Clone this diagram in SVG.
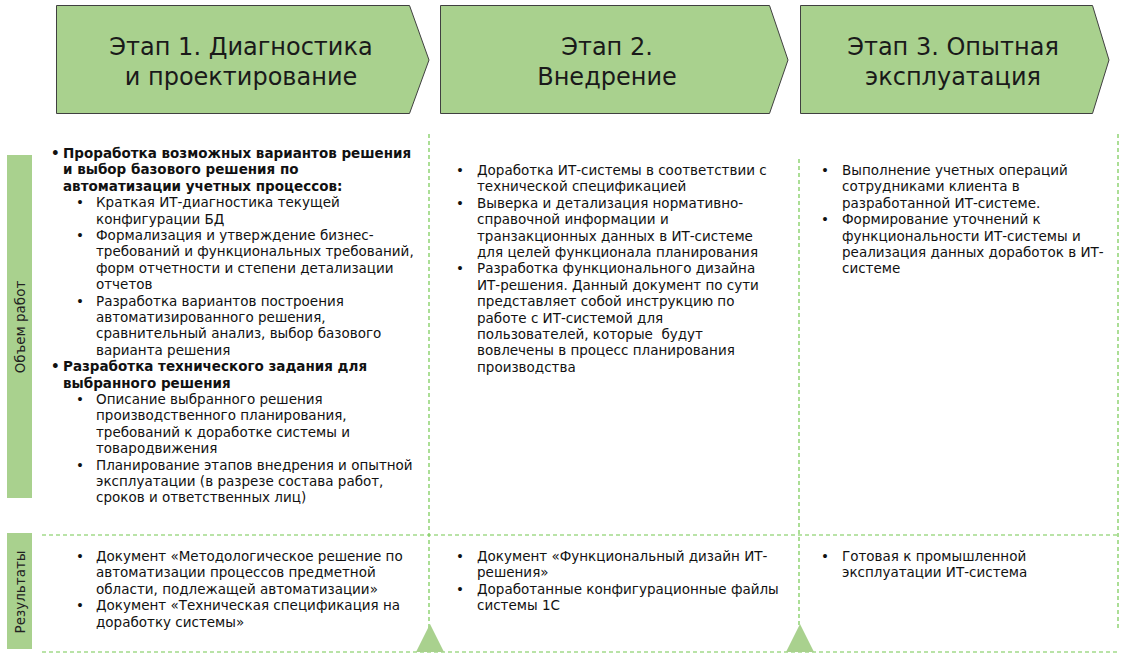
<svg xmlns="http://www.w3.org/2000/svg" width="1125" height="656" viewBox="0 0 1125 656">
<style>
.hdr{fill:#a9d18e;stroke:#404040;stroke-width:1}
.bar{fill:#a9d18e}
.ht{font-family:"DejaVu Sans",Verdana,sans-serif;font-size:24px;fill:#1a1a1a;text-anchor:middle}
.t{font-family:"DejaVu Sans",Verdana,sans-serif;font-size:13.5px;fill:#111}
.b{font-weight:bold}
.lbl{font-family:"DejaVu Sans",Verdana,sans-serif;font-size:13.5px;fill:#222;text-anchor:middle}
.dash{stroke:#74c850;stroke-width:1.2;stroke-dasharray:4 3;fill:none}
.tri{fill:#a9d18e}
</style>
<rect width="1125" height="656" fill="#ffffff"/>

<g id="stage1">
<polygon class="hdr" points="56.5,5.5 409.5,5.5 429,60 409.5,113.5 56.5,113.5"/>
<text class="ht" x="241" y="55">Этап 1. Диагностика</text>
<text class="ht" x="241" y="85">и проектирование</text>
</g>
<g id="stage2">
<polygon class="hdr" points="440.5,5.5 769.5,5.5 788,60 769.5,113.5 440.5,113.5"/>
<text class="ht" x="607" y="55">Этап 2.</text>
<text class="ht" x="607" y="85">Внедрение</text>
</g>
<g id="stage3">
<polygon class="hdr" points="800.5,5.5 1092.5,5.5 1109,60 1092.5,113.5 800.5,113.5"/>
<text class="ht" x="953" y="55">Этап 3. Опытная</text>
<text class="ht" x="953" y="85">эксплуатация</text>
</g>

<g id="label-scope">
<rect class="bar" x="7" y="155" width="25" height="343"/>
<text class="lbl" transform="translate(24.5,327) rotate(-90)">Объем работ</text>
</g>
<g id="label-results">
<rect class="bar" x="7" y="533" width="25" height="116"/>
<text class="lbl" transform="translate(24.5,592) rotate(-90)">Результаты</text>
</g>

<g id="connectors">
<line class="dash" x1="429" y1="134" x2="429" y2="652"/>
<line class="dash" x1="799" y1="159" x2="799" y2="652"/>
<line class="dash" x1="1118" y1="134" x2="1118" y2="628"/>
<line class="dash" x1="42" y1="535" x2="1118" y2="535"/>
<line class="dash" x1="42" y1="652" x2="1118" y2="652"/>
<polygon class="tri" points="430,624 444,652 416,652"/>
<polygon class="tri" points="800,624 814,652 786,652"/>
</g>

<g id="scope-stage1" class="t">
<text class="t b" x="51" y="158">•</text>
<text class="t b" x="63" y="158">Проработка возможных вариантов решения</text>
<text class="t b" x="63" y="174.4">и выбор базового решения по</text>
<text class="t b" x="63" y="190.8">автоматизации учетных процессов:</text>
<text class="t" x="76" y="207.2">•</text>
<text class="t" x="96" y="207.2">Краткая ИТ-диагностика текущей</text>
<text class="t" x="96" y="223.6">конфигурации БД</text>
<text class="t" x="76" y="240">•</text>
<text class="t" x="96" y="240">Формализация и утверждение бизнес-</text>
<text class="t" x="96" y="256.4">требований и функциональных требований,</text>
<text class="t" x="96" y="272.8">форм отчетности и степени детализации</text>
<text class="t" x="96" y="289.2">отчетов</text>
<text class="t" x="76" y="305.6">•</text>
<text class="t" x="96" y="305.6">Разработка вариантов построения</text>
<text class="t" x="96" y="322">автоматизированного решения,</text>
<text class="t" x="96" y="338.4">сравнительный анализ, выбор базового</text>
<text class="t" x="96" y="354.8">варианта решения</text>
<text class="t b" x="51" y="371.2">•</text>
<text class="t b" x="63" y="371.2">Разработка технического задания для</text>
<text class="t b" x="63" y="387.6">выбранного решения</text>
<text class="t" x="76" y="404">•</text>
<text class="t" x="96" y="404">Описание выбранного решения</text>
<text class="t" x="96" y="420.4">производственного планирования,</text>
<text class="t" x="96" y="436.8">требований к доработке системы и</text>
<text class="t" x="96" y="453.2">товародвижения</text>
<text class="t" x="76" y="469.6">•</text>
<text class="t" x="96" y="469.6">Планирование этапов внедрения и опытной</text>
<text class="t" x="96" y="486">эксплуатации (в разрезе состава работ,</text>
<text class="t" x="96" y="502.4">сроков и ответственных лиц)</text>
</g>

<g id="scope-stage2">
<text class="t" x="456" y="175">•</text>
<text class="t" x="477" y="175">Доработка ИТ-системы в соответствии с</text>
<text class="t" x="477" y="191.4">технической спецификацией</text>
<text class="t" x="456" y="207.8">•</text>
<text class="t" x="477" y="207.8">Выверка и детализация нормативно-</text>
<text class="t" x="477" y="224.2">справочной информации и</text>
<text class="t" x="477" y="240.6">транзакционных данных в ИТ-системе</text>
<text class="t" x="477" y="257">для целей функционала планирования</text>
<text class="t" x="456" y="273.4">•</text>
<text class="t" x="477" y="273.4">Разработка функционального дизайна</text>
<text class="t" x="477" y="289.8">ИТ-решения. Данный документ по сути</text>
<text class="t" x="477" y="306.2">представляет собой инструкцию по</text>
<text class="t" x="477" y="322.6">работе с ИТ-системой для</text>
<text class="t" x="477" y="339" xml:space="preserve">пользователей, которые  будут</text>
<text class="t" x="477" y="355.4">вовлечены в процесс планирования</text>
<text class="t" x="477" y="371.8">производства</text>
</g>

<g id="scope-stage3">
<text class="t" x="821" y="175">•</text>
<text class="t" x="842" y="175">Выполнение учетных операций</text>
<text class="t" x="842" y="191.4">сотрудниками клиента в</text>
<text class="t" x="842" y="207.8">разработанной ИТ-системе.</text>
<text class="t" x="821" y="224.2">•</text>
<text class="t" x="842" y="224.2">Формирование уточнений к</text>
<text class="t" x="842" y="240.6">функциональности ИТ-системы и</text>
<text class="t" x="842" y="257">реализация данных доработок в ИТ-</text>
<text class="t" x="842" y="273.4">системе</text>
</g>

<g id="results-stage1">
<text class="t" x="76" y="561">•</text>
<text class="t" x="96" y="561">Документ «Методологическое решение по</text>
<text class="t" x="96" y="577.4">автоматизации процессов предметной</text>
<text class="t" x="96" y="593.8">области, подлежащей автоматизации»</text>
<text class="t" x="76" y="610.2">•</text>
<text class="t" x="96" y="610.2">Документ «Техническая спецификация на</text>
<text class="t" x="96" y="626.6">доработку системы»</text>
</g>

<g id="results-stage2">
<text class="t" x="456" y="561">•</text>
<text class="t" x="477" y="561">Документ «Функциональный дизайн ИТ-</text>
<text class="t" x="477" y="577.4">решения»</text>
<text class="t" x="456" y="593.8">•</text>
<text class="t" x="477" y="593.8">Доработанные конфигурационные файлы</text>
<text class="t" x="477" y="610.2">системы 1С</text>
</g>

<g id="results-stage3">
<text class="t" x="821" y="561">•</text>
<text class="t" x="842" y="561">Готовая к промышленной</text>
<text class="t" x="842" y="577.4">эксплуатации ИТ-система</text>
</g>
</svg>
